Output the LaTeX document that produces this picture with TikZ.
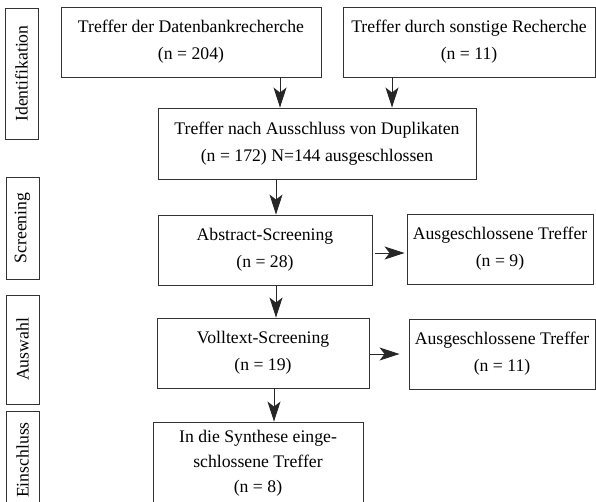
\documentclass[tikz,border=0pt]{standalone}
\usepackage{fontspec}
\setmainfont{Liberation Serif}
\usetikzlibrary{arrows.meta}
\begin{document}
\begin{tikzpicture}[x=1pt,y=-1pt,
  box/.style={draw=black!80, line width=0.9pt, align=center, inner sep=0pt,
    font=\fontsize{17.7}{27}\selectfont},
  phase/.style={draw=black!80, line width=0.9pt, rotate=90, inner sep=0pt,
    minimum height=33pt, font=\fontsize{17.7}{22}\selectfont},
  arr/.style={draw=black!85, line width=0.9pt, -{Stealth[length=20pt,width=13pt,inset=5pt]}}]
\useasboundingbox (0,0) rectangle (596,501);
% phase labels
\node[phase, minimum width=131pt] (pid) at (21.5,73.5) {Identifikation};
\node[phase, minimum width=102pt] (psc) at (22.5,228) {Screening};
\node[phase, minimum width=109pt] (pau) at (22.5,349.5) {Auswahl};
\node[phase, minimum width=98pt] (pei) at (22.5,460) {Einschluss};
% boxes
\node[box, minimum width=260pt, minimum height=70pt] (b1) at (191,42) {Treffer der Datenbankrecherche\\(n = 204)};
\node[box, minimum width=252pt, minimum height=70pt] (b2) at (469,42) {Treffer durch sonstige Recherche\\(n = 11)};
\node[box, minimum width=318pt, minimum height=71pt] (b3) at (317,143.5) {Treffer nach Ausschluss von Duplikaten\\(n = 172) N=144 ausgeschlossen};
\node[box, minimum width=214pt, minimum height=70pt] (b4) at (265,250) {Abstract-Screening\\(n = 28)};
\node[box, minimum width=186pt, minimum height=70pt] (b5) at (500,249) {Ausgeschlossene Treffer\\(n = 9)};
\node[box, minimum width=212pt, minimum height=70pt] (b6) at (263,353) {Volltext-Screening\\(n = 19)};
\node[box, minimum width=186pt, minimum height=70pt] (b7) at (502,354) {Ausgeschlossene Treffer\\(n = 11)};
\node[box, minimum width=210pt, minimum height=82pt, font=\fontsize{17.7}{25}\selectfont] (b8) at (258,463) {In die Synthese einge-\\schlossene Treffer\\(n = 8)};
% arrow positions
\coordinate (x1) at (280,0);
\coordinate (x2) at (392,0);
\coordinate (x3) at (276,0);
\coordinate (x4) at (274,0);
\coordinate (y5) at (0,253);
\coordinate (y7) at (0,354);
\draw[arr] (b1.south -| x1) -- (b3.north -| x1);
\draw[arr] (b2.south -| x2) -- (b3.north -| x2);
\draw[arr] (b3.south -| x3) -- (b4.north -| x3);
\draw[arr] (b4.south -| x3) -- (b6.north -| x3);
\draw[arr] (b6.south -| x4) -- (b8.north -| x4);
\draw[arr, shorten <=3pt, shorten >=2pt] (b4.east |- y5) -- (b5.west |- y5);
\draw[arr, shorten <=1pt, shorten >=9pt] (b6.east |- y7) -- (b7.west |- y7);
\end{tikzpicture}
\end{document}
